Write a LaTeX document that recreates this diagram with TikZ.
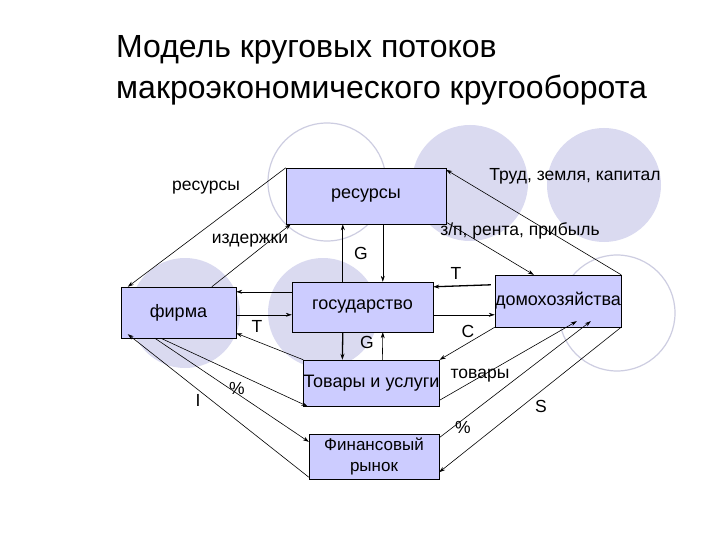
\documentclass[tikz,border=0pt]{standalone}
\usepackage{fontspec}
\setmainfont{Liberation Sans}
\usetikzlibrary{calc,arrows.meta}
\begin{document}
\begin{tikzpicture}[x=1pt,y=-1pt,
  box/.style={draw=black,fill=boxc,inner sep=0pt,font=\fontsize{18}{20}\selectfont},
  fc/.style={fill=circc},
  oc/.style={draw=circl,line width=1.2pt},
  ar/.style={-{Stealth[length=6pt,width=4pt]},line width=0.6pt},
  tk/.style={ar,line width=1.3pt},
  lb/.style={font=\fontsize{17.5}{19}\selectfont,inner sep=0pt}]
\definecolor{boxc}{RGB}{204,204,255}
\definecolor{circc}{RGB}{218,218,240}
\definecolor{circl}{RGB}{205,205,225}
\useasboundingbox (0,0) rectangle (720,540);
\fill[white] (0,0) rectangle (720,540);
% circles
\fill[fc] (470,183) circle (58);
\fill[fc] (604,185) circle (57);
\fill[fc] (185,313) circle (55);
\fill[fc] (323,313) circle (55);
\draw[oc] (327,182) circle (59);
\draw[oc] (617,313) circle (58);
% title
\node[anchor=west,font=\fontsize{32}{36}\selectfont,inner sep=0pt] (t1) at (116,50) {Модель круговых потоков};
\node[anchor=west,font=\fontsize{32}{36}\selectfont,inner sep=0pt] (t2) at (116,90) {макроэкономического кругооборота};
% boxes
\node[box,minimum width=160pt,minimum height=56pt] (res) at (366,196) {ресурсы};
\node[box,minimum width=115pt,minimum height=51pt] (firm) at (178.5,312.5) {фирма};
\node[box,minimum width=141pt,minimum height=50pt] (gov) at (362.5,307) {государство};
\node[box,minimum width=124pt,minimum height=52pt] (dom) at (558,301) {домохозяйства};
\node[box,minimum width=135pt,minimum height=46pt] (tov) at (371.5,383) {Товары и услуги};
\node[box,minimum width=130pt,minimum height=45pt,align=center,font=\fontsize{17}{21}\selectfont] (fin) at (374,456.5) {Финансовый\\рынок};
% arrows
\draw[ar] (res.north west) -- ($(firm.north west)+(7,0)$);
\draw[ar] ($(firm.north west)+(91,0)$) -- ($(res.south west)+(5,0)$);
\draw[tk] ($(gov.north west)+(51,0)$) -- ($(res.south west)+(57,0)$);
\draw[ar] ($(res.south west)+(97,0)$) -- ($(gov.north west)+(91,0)$);
\draw[ar] (dom.north east) -- ($(res.north east)+(0,2)$);
\draw[ar] ($(res.south east)+(0,-2)$) -- ($(dom.north west)+(39,0)$);
\draw[tk] ($(dom.north west)+(-4,10)$) -- ($(gov.north east)+(0,5)$);
\draw[ar] ($(gov.north east)+(0,33)$) -- ($(dom.north west)+(0,40)$);
\draw[ar] ($(gov.north west)+(0,10)$) -- ($(firm.north east)+(0,5)$);
\draw[ar] ($(firm.north east)+(0,28)$) -- ($(gov.north west)+(0,33)$);
\draw[ar] (tov.north west) -- ($(firm.south east)+(0,-5)$);
\draw[tk] ($(gov.south west)+(51,0)$) -- ($(tov.north west)+(39,0)$);
\draw[ar] ($(tov.north west)+(79,0)$) -- ($(gov.south west)+(91,0)$);
\draw[ar] (dom.south west) -- (tov.north east);
\draw[ar] ($(tov.south east)+(0,-6)$) -- ($(dom.south west)+(82,-6)$);
\draw[ar] ($(firm.south west)+(40,0)$) -- ($(tov.south west)+(4,0)$);
\draw[ar] ($(firm.south west)+(34,0)$) -- ($(fin.north west)+(0,8)$);
\draw[ar] ($(fin.south west)+(0,-2)$) -- ($(firm.south west)+(7,-4)$);
\draw[ar] ($(fin.north east)+(0,4)$) -- ($(dom.south west)+(96,-6)$);
\draw[ar] (dom.south east) -- ($(fin.south east)+(0,-7)$);
% labels
\node[lb] (l1) at (206,188) {ресурсы};
\node[lb] (l2) at (250,241) {издержки};
\node[lb] (l3) at (361,253) {G};
\node[lb] (l4) at (575,176) {Труд, земля, капитал};
\node[lb] (l5) at (520,231) {з/п, рента, прибыль};
\node[lb] (l6) at (456,273) {T};
\node[lb] (l7) at (257,326) {T};
\node[lb] (l8) at (367,342) {G};
\node[lb] (l9) at (468,331) {C};
\node[lb] (l10) at (480,376) {товары};
\node[lb] (l11) at (237,388) {\%};
\node[lb] (l12) at (198,400) {I};
\node[lb] (l13) at (463,427) {\%};
\node[lb] (l14) at (541,406) {S};
\end{tikzpicture}
\end{document}
